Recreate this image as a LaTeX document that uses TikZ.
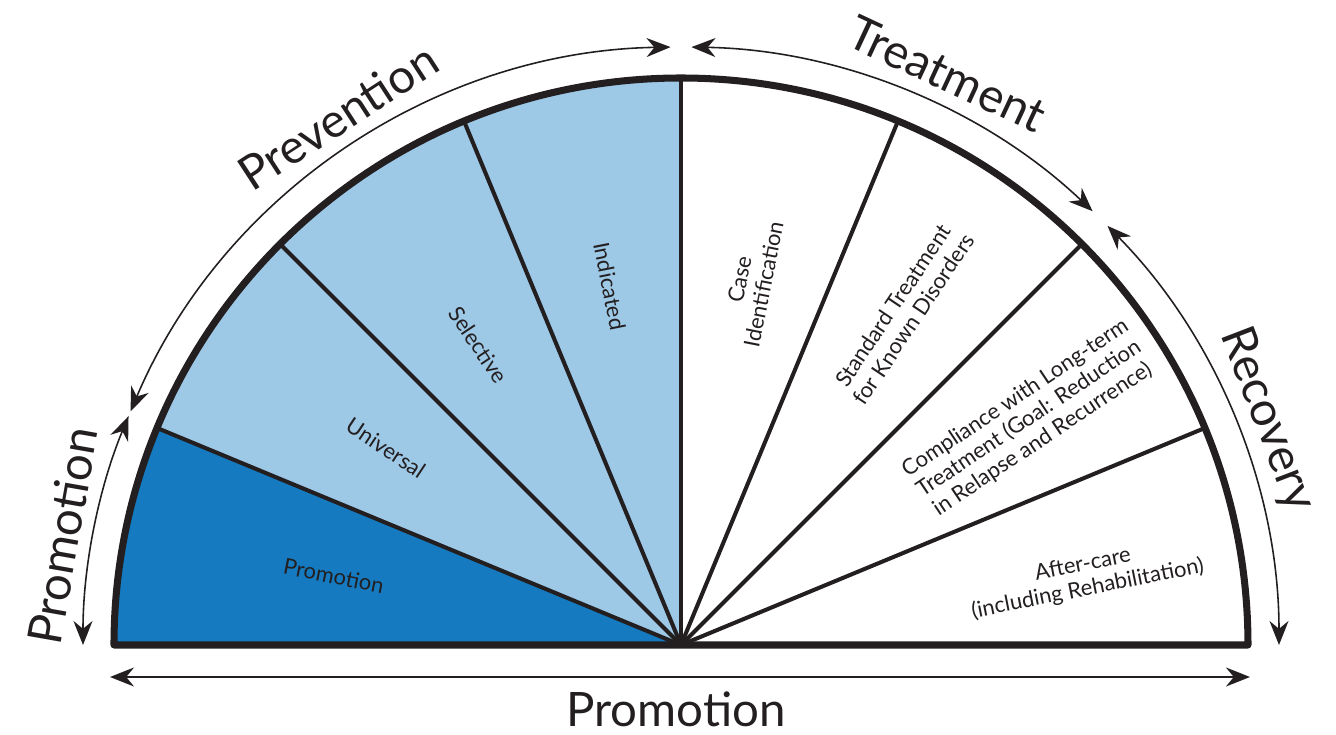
\documentclass[tikz,border=0pt]{standalone}
\usepackage{fontspec}
\setmainfont{Lato}
\usetikzlibrary{arrows.meta}
\definecolor{promoblue}{HTML}{157ABF}
\definecolor{prevblue}{HTML}{9DC8E6}
\definecolor{rimgray}{HTML}{231F20}

\begin{document}
\begin{tikzpicture}[x=0.02cm,y=0.02cm,
  rim/.style={line width=4pt, draw=rimgray, line join=round},
  spoke/.style={line width=2.3pt, draw=rimgray},
  arr/.style={line width=0.9pt, draw=rimgray, {Stealth[length=0.48cm,width=0.38cm]}-{Stealth[length=0.48cm,width=0.38cm]}},
  big/.style={font=\fontsize{27}{30}\selectfont, text=rimgray},
  small/.style={font=\fontsize{12.5}{14}\selectfont, text=rimgray, align=center}
]
\useasboundingbox (-681,-89) rectangle (655,645);

% sectors
\fill[promoblue] (0,0) -- (180:567) arc[start angle=180,end angle=157.5,radius=567] -- cycle;
\fill[prevblue] (0,0) -- (157.5:567) arc[start angle=157.5,end angle=90,radius=567] -- cycle;
\foreach \a in {22.5,45,67.5,90,112.5,135,157.5}
  \draw[spoke] (0,0) -- (\a:567);
\draw[rim] (-567,0) arc[start angle=180,end angle=0,radius=567] -- cycle;

% sector labels
\node[small, rotate=-11.25] (promo) at (168.75:354) {Promotion};
\node[small, rotate=-33.75] (univ) at (146.25:355) {Universal};
\node[small, rotate=-56.25] (sel) at (124:362) {Selective};
\node[small, rotate=-78.75] (ind) at (101.25:366) {Indicated};
\node[small, rotate=78.75] (case) at (79:370) {Case\\Identification};
\node[small, rotate=56.25] (std) at (56.25:400) {Standard Treatment\\for Known Disorders};
\node[small, rotate=33.75] (comp) at (33:415) {Compliance with Long-term\\Treatment (Goal: Reduction\\in Relapse and Recurrence)};
\node[small, rotate=11.25] (after) at (9.5:410) {After-care\\(including Rehabilitation)};

% outer arrows
\draw[arr] (180:598) arc[start angle=180,end angle=157.5,radius=598];
\draw[arr] (157:598) arc[start angle=157,end angle=91,radius=598];
\draw[arr] (89:598) arc[start angle=89,end angle=46.5,radius=598];
\draw[arr] (44.5:598) arc[start angle=44.5,end angle=0,radius=598];
\coordinate (bl) at (-571,-32);
\coordinate (br) at (569,-32);
\draw[arr] (bl) -- (br);

% outer labels
\node[big, rotate=80] (lpromo) at (170:628) {Promotion};
\node[big, rotate=33] (prev) at (123:630) {Prevention};
\node[big, rotate=-25] (treat) at (65:630) {Treatment};
\node[big, rotate=-69] (recov) at (21:628) {Recovery};
\node[big] (bpromo) at (-5,-64) {Promotion};
\end{tikzpicture}
\end{document}
